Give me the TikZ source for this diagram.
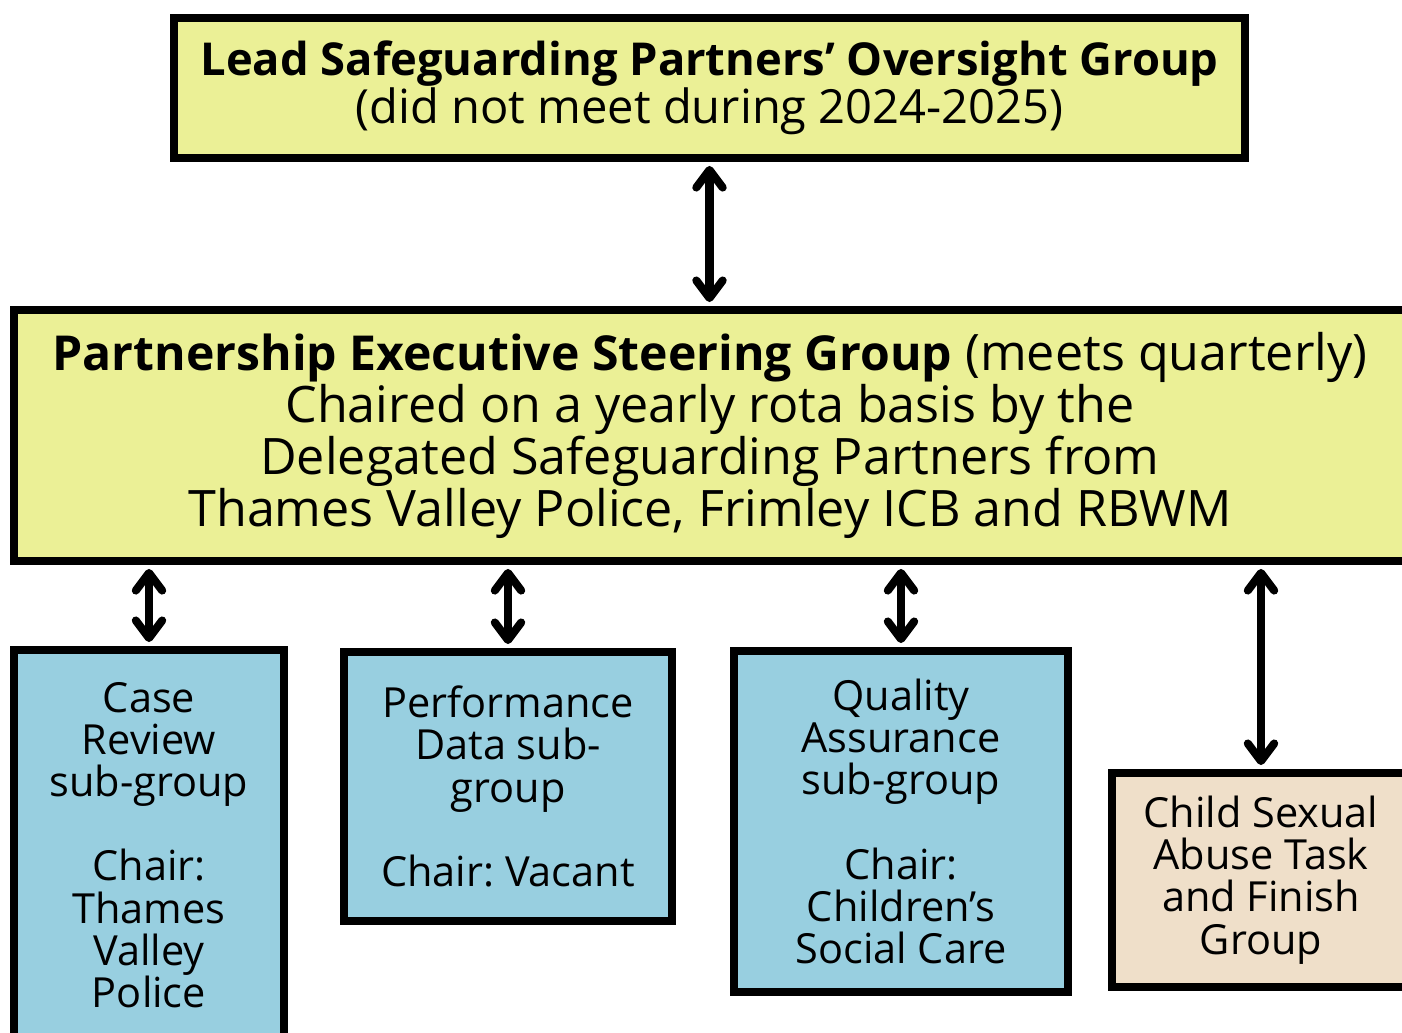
\documentclass[tikz,border=0pt]{standalone}
\usepackage{fontspec}
\setmainfont{Open Sans}
\frenchspacing
\usepackage{xcolor}
\definecolor{Pale Lime}{HTML}{EBF096}
\definecolor{Sky Wash}{HTML}{98CFE0}
\definecolor{Oat}{HTML}{EFDFC9}
\colorlet{cYellow}{Pale Lime}
\colorlet{cBlue}{Sky Wash}
\colorlet{cTan}{Oat}
\usepackage{tikz}
\usetikzlibrary{arrows.meta, positioning}
\newcommand{\grouptitle}[2]{{\fontsize{#1}{14.8}\selectfont\bfseries #2}}
\tikzset{
	line width = 2.3pt,
	>={Straight Barb[round, length=5pt, width=7.5pt]},
	box/.style={
		draw,
		rectangle,
		line width=2.3pt,
		inner sep=0pt,
		align=center
	},
	bigbox/.style={
		box,
		fill=cYellow,
		font=\fontsize{14.3}{14.8}\selectfont
	},
	subbox/.style={
		box,
		fill=cBlue,
		font=\fontsize{11.8}{12}\selectfont
	},
	taskbox/.style={
		box,
		fill=cTan,
		font=\fontsize{11.8}{12}\selectfont
	},
	link/.style={
		<->,
		line width=2.3pt,
		shorten <=1.1pt,
		shorten >=1.1pt
	}
}

\begin{document}
\begin{tikzpicture}
		\useasboundingbox (0,0) rectangle (14.02,-10.32);

		\node[bigbox, minimum width=10.71cm, minimum height=1.40cm, font=\fontsize{13.4}{13.7}\selectfont] (lsp) at (7.095,-.88)
			{\grouptitle{12.9}{Lead Safeguarding Partners’ Oversight Group}\\(did not meet during 2024-2025)};
		\node[bigbox, minimum width=13.92cm, minimum height=2.51cm] (esg) at (7.10,-4.355)
			{\grouptitle{13.7}{Partnership Executive Steering Group} (meets quarterly)\\Chaired on a yearly rota basis by the\\Delegated Safeguarding Partners from\\Thames Valley Police, Frimley ICB and RBWM};

		\node[subbox, minimum width=2.70cm, minimum height=3.90cm] (crg) at (1.49,-8.45)
			{Case\\Review\\sub-group\\[12pt]Chair:\\Thames\\Valley\\Police};
		\node[subbox, minimum width=3.28cm, minimum height=2.69cm] (pdg) at (5.08,-7.865)
			{Performance\\Data sub-\\group\\[12pt]Chair: Vacant};
		\node[subbox, minimum width=3.34cm, minimum height=3.41cm] (qag) at (9.01,-8.215)
			{Quality\\Assurance\\sub-group\\[12pt]Chair:\\Children’s\\Social Care};
		\node[taskbox, minimum width=2.98cm, minimum height=2.14cm] (csa) at (12.61,-8.80)
			{Child Sexual\\Abuse Task\\and Finish\\Group};

		\draw[link] (lsp.south) -- (lsp.south |- esg.north);
		\draw[link] (crg.north |- esg.south) -- (crg.north);
		\draw[link] (pdg.north |- esg.south) -- (pdg.north);
		\draw[link] (qag.north |- esg.south) -- (qag.north);
		\draw[link] (csa.north |- esg.south) -- (csa.north);
	\end{tikzpicture}
\end{document}
